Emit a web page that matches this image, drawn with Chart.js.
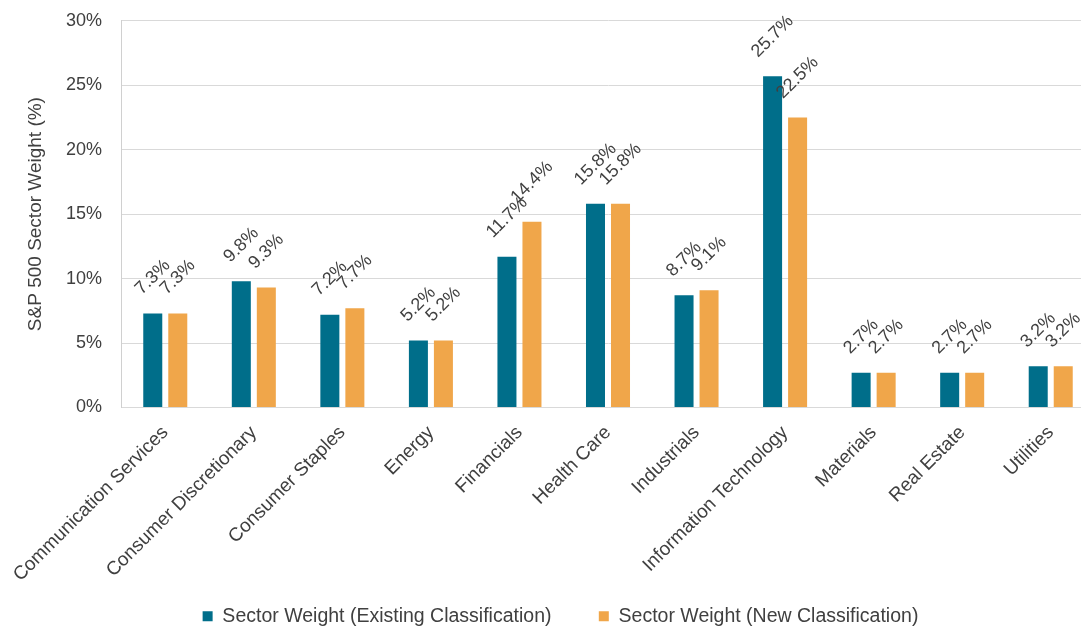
<!DOCTYPE html>
<html>
<head>
<meta charset="utf-8">
<script src="https://cdn.jsdelivr.net/npm/chart.js@4.4.1/dist/chart.umd.min.js"></script>
<style>
  html, body { margin: 0; padding: 0; background: #fff; overflow: hidden; }
  #wrap { width: 1120px; height: 627px; }
</style>
</head>
<body>
<div id="wrap"><canvas id="sectorChart" width="1120" height="627"></canvas></div>
<script>
const sectors = [
  'Communication Services', 'Consumer Discretionary', 'Consumer Staples', 'Energy',
  'Financials', 'Health Care', 'Industrials', 'Information Technology',
  'Materials', 'Real Estate', 'Utilities'
];
const existingWeights = [7.3, 9.8, 7.2, 5.2, 11.7, 15.8, 8.7, 25.7, 2.7, 2.7, 3.2];
const newWeights = [7.3, 9.3, 7.7, 5.2, 14.4, 15.8, 9.1, 22.5, 2.7, 2.7, 3.2];
const yTickValues = [0, 5, 10, 15, 20, 25, 30];

const FONT = '"Liberation Sans", Arial, sans-serif';
const TEXT = '#404040';

// rotated value labels above each bar
const barLabels = {
  id: 'barLabels',
  afterDatasetsDraw(chart) {
    const ctx = chart.ctx;
    ctx.save();
    ctx.font = '18px ' + FONT;
    ctx.fillStyle = TEXT;
    ctx.textAlign = 'center';
    ctx.textBaseline = 'middle';
    chart.data.datasets.forEach((ds, i) => {
      chart.getDatasetMeta(i).data.forEach((bar, j) => {
        const text = ds.data[j].toFixed(1) + '%';
        const w = ctx.measureText(text).width;
        const half = (w + 13) * Math.SQRT1_2 / 2;
        ctx.save();
        ctx.translate(bar.x, bar.y - 17 - half);
        ctx.rotate(-Math.PI / 4);
        ctx.fillText(text, 0, 0);
        ctx.restore();
      });
    });
    ctx.restore();
  }
};

const ctx = document.getElementById('sectorChart').getContext('2d');
new Chart(ctx, {
  type: 'bar',
  data: {
    labels: sectors,
    datasets: [
      {
        label: 'Sector Weight (Existing Classification)',
        data: existingWeights,
        backgroundColor: '#006e8a',
        categoryPercentage: 0.565,
        barPercentage: 0.76
      },
      {
        label: 'Sector Weight (New Classification)',
        data: newWeights,
        backgroundColor: '#f0a64a',
        categoryPercentage: 0.565,
        barPercentage: 0.76
      }
    ]
  },
  options: {
    responsive: false,
    animation: false,
    layout: { padding: { top: 20.7, right: 25, bottom: -9, left: 26 } },
    plugins: {
      tooltip: { enabled: false },
      legend: {
        position: 'bottom',
        labels: {
          boxWidth: 10,
          boxHeight: 10,
          padding: 4,
          color: TEXT,
          font: { family: FONT, size: 19.5 },
          generateLabels(chart) {
            const items = Chart.defaults.plugins.legend.labels.generateLabels(chart);
            items[0].text += '        ';
            return items;
          }
        }
      }
    },
    scales: {
      x: {
        grid: { display: false },
        border: { color: '#d9d9d9' },
        ticks: {
          color: TEXT,
          font: { family: FONT, size: 19 },
          minRotation: 45,
          maxRotation: 45,
          autoSkip: false,
          padding: 6
        },
        afterFit(scale) { scale.height = 195; }
      },
      y: {
        min: 0,
        max: 30,
        afterBuildTicks(scale) { scale.ticks = yTickValues.map(v => ({ value: v })); },
        grid: { color: '#d9d9d9', drawTicks: true, tickLength: 19, tickColor: 'rgba(0,0,0,0)' },
        border: { color: '#d0d0d0' },
        ticks: {
          color: TEXT,
          font: { family: FONT, size: 18 },
          padding: 0,
          callback: v => v + '%'
        },
        title: {
          display: true,
          text: 'S&P 500 Sector Weight (%)',
          color: TEXT,
          font: { family: FONT, size: 19 },
          padding: { top: -2, bottom: 0 }
        },
        afterFit(scale) { scale.width = 95; }
      }
    }
  },
  plugins: [barLabels]
});
</script>
</body>
</html>
